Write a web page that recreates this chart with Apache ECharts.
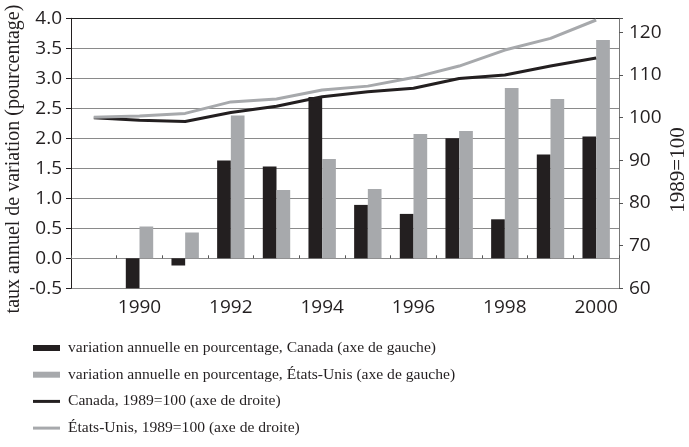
<!DOCTYPE html>
<html>
<head>
<meta charset="utf-8">
<script src="https://cdn.jsdelivr.net/npm/echarts@6/dist/echarts.min.js"></script>
<style>html,body{margin:0;padding:0;background:#fff}#c{width:689px;height:447px}</style>
</head>
<body>
<div id="c"></div>
<script>
const years = ['1989','1990','1991','1992','1993','1994','1995','1996','1997','1998','1999','2000'];
const canadaPct = [null, -0.5, -0.12, 1.63, 1.53, 2.69, 0.89, 0.74, 2.0, 0.65, 1.73, 2.03];
const usPct = [null, 0.53, 0.43, 2.38, 1.14, 1.655, 1.155, 2.07, 2.12, 2.84, 2.655, 3.64];
const canadaIdx = [100, 99.4, 99.1, 101.2, 102.7, 104.9, 106.1, 106.9, 109.2, 110.0, 112.1, 114.0];
const usIdx = [100.1, 100.4, 101.0, 103.7, 104.4, 106.5, 107.4, 109.4, 112.1, 115.85, 118.6, 122.9];
const leftTicks = { min: -0.5, max: 4.0, step: 0.5 };
const rightTicks = { min: 60, max: 123.3, step: 10 };
const names = [
  'variation annuelle en pourcentage, Canada (axe de gauche)',
  'variation annuelle en pourcentage, États-Unis (axe de gauche)',
  'Canada, 1989=100 (axe de droite)',
  'États-Unis, 1989=100 (axe de droite)'
];
const DARK = '#231f20', GREY = '#a7a9ac';
const SANS = '"Open Sans", "Noto Sans", sans-serif';
const SERIF = '"Liberation Serif", "DejaVu Serif", serif';
const lineIcon = 'path://M0,0M0,1.5H27V4.5H0ZM27,6';

const chart = echarts.init(document.getElementById('c'), null, { renderer: 'canvas' });
chart.setOption({
  animation: false,
  backgroundColor: '#fff',
  grid: { left: 71, right: 70, top: 18.3, bottom: 158.7, containLabel: false },
  xAxis: [
    {
      type: 'category', data: years, position: 'bottom',
      axisLine: { onZero: true, lineStyle: { color: '#8a8a8a', width: 1 } },
      axisTick: { show: true, inside: true, length: 3, lineStyle: { color: '#555' } },
      axisLabel: { show: false }, splitLine: { show: false }
    },
    {
      type: 'category', data: years, position: 'bottom',
      axisLine: { show: false, onZero: false }, axisTick: { show: false },
      axisLabel: {
        interval: (i) => i % 2 === 1, margin: 10,
        fontFamily: SANS, fontSize: 19, color: DARK
      },
      splitLine: { show: false }
    }
  ],
  yAxis: [
    {
      type: 'value', min: leftTicks.min, max: leftTicks.max, interval: leftTicks.step,
      axisLine: { show: true, lineStyle: { color: DARK, width: 1 } },
      axisTick: { show: true, length: 5, lineStyle: { color: DARK } },
      axisLabel: { margin: 9, fontFamily: SANS, fontSize: 19, color: DARK, formatter: (v) => v.toFixed(1) },
      splitLine: { show: true, lineStyle: { color: ['#8a8a8a','#8a8a8a','#8a8a8a','#8a8a8a','#8a8a8a','#8a8a8a','#8a8a8a','#8a8a8a','#8a8a8a','#222'], width: 1 } }
    },
    {
      type: 'value', min: rightTicks.min, max: rightTicks.max, interval: rightTicks.step, position: 'right',
      axisLine: { show: true, lineStyle: { color: '#777', width: 1 } },
      axisTick: { show: true, length: 4, lineStyle: { color: '#555' } },
      axisLabel: { margin: 10, fontFamily: SANS, fontSize: 19, color: DARK, formatter: (v) => v > 120.5 ? '' : String(v) },
      splitLine: { show: false }
    }
  ],
  legend: {
    orient: 'vertical', left: 33, top: 338, padding: 0, itemWidth: 27, itemHeight: 6, itemGap: 6.7,
    textStyle: { fontFamily: SERIF, fontSize: 15.6, color: DARK, lineHeight: 20, padding: [0, 0, 0, 3] },
    data: [
      { name: names[0], icon: 'rect' },
      { name: names[1], icon: 'rect' },
      { name: names[2], icon: lineIcon },
      { name: names[3], icon: lineIcon }
    ]
  },
  graphic: [
    { type: 'text', x: 14, y: 159, rotation: Math.PI / 2,
      style: { text: 'taux annuel de variation (pourcentage)', font: '20px ' + SERIF, fill: DARK, textAlign: 'center', textVerticalAlign: 'middle' } },
    { type: 'text', x: 678, y: 170, rotation: Math.PI / 2,
      style: { text: '1989=100', font: '21px ' + SERIF, fill: DARK, textAlign: 'center', textVerticalAlign: 'middle' } }
  ],
  series: [
    { name: names[0], type: 'bar', data: canadaPct, xAxisIndex: 0, yAxisIndex: 0,
      barGap: '0%', barCategoryGap: '40%', itemStyle: { color: DARK } },
    { name: names[1], type: 'bar', data: usPct, xAxisIndex: 0, yAxisIndex: 0,
      barGap: '0%', barCategoryGap: '40%', itemStyle: { color: GREY } },
    { name: names[2], type: 'line', data: canadaIdx, xAxisIndex: 0, yAxisIndex: 1,
      symbol: 'none', lineStyle: { color: DARK, width: 3 }, itemStyle: { color: DARK }, z: 3 },
    { name: names[3], type: 'line', data: usIdx, xAxisIndex: 0, yAxisIndex: 1,
      symbol: 'none', lineStyle: { color: GREY, width: 3 }, itemStyle: { color: GREY }, z: 3 }
  ]
});
</script>
</body>
</html>
